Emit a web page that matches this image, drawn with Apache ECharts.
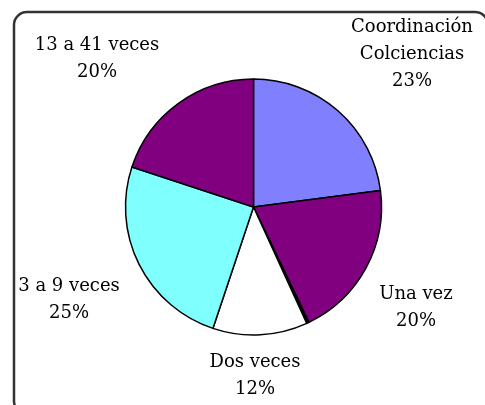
<!DOCTYPE html>
<html>
<head>
<meta charset="utf-8">
<script src="https://cdn.jsdelivr.net/npm/echarts@6/dist/echarts.min.js"></script>
<style>
  html, body { margin: 0; padding: 0; background: #fff; }
  #chart { width: 485px; height: 405px; }
</style>
</head>
<body>
<div id="chart"></div>
<script>
// categorias y porcentajes
var categorias = ['Coordinación\nColciencias', 'Una vez', '', 'Dos veces', '3 a 9 veces', '13 a 41 veces'];
var valores = [23, 20, 0.3, 12, 25, 20];
var colores = ['#8080FF', '#800080', '#000000', '#FFFFFF', '#80FFFF', '#800080'];

// posicion de cada etiqueta (centro del bloque de texto)
var posEtiquetas = [[412, 54], [416, 308], null, [255, 376], [69, 300], [97, 59]];

var myChart = echarts.init(document.getElementById('chart'));

var datos = [];
for (var i = 0; i < categorias.length; i++) {
  datos.push({
    name: categorias[i],
    value: valores[i],
    itemStyle: { color: colores[i] },
    label: { show: categorias[i] !== '' }
  });
}

var option = {
  backgroundColor: '#fff',
  animation: false,
  graphic: [{
    type: 'rect',
    shape: { x: 14, y: 12, width: 474, height: 402, r: 13 },
    style: { fill: 'none', stroke: '#333', lineWidth: 2.5 },
    z: 0
  }],
  series: [{
    type: 'pie',
    center: [253.5, 207],
    radius: 128,
    startAngle: 90,
    clockwise: true,
    avoidLabelOverlap: false,
    data: datos,
    itemStyle: { borderColor: '#000', borderWidth: 1.5 },
    label: {
      show: true,
      position: 'outside',
      formatter: function (p) { return p.name + '\n' + p.value + '%'; },
      fontFamily: 'DejaVu Serif',
      fontSize: 18,
      lineHeight: 27,
      color: '#000',
      align: 'center'
    },
    labelLine: { show: false },
    labelLayout: function (params) {
      var p = posEtiquetas[params.dataIndex];
      if (!p) return {};
      return { x: p[0], y: p[1], align: 'center', verticalAlign: 'middle' };
    }
  }]
};

myChart.setOption(option);
</script>
</body>
</html>
